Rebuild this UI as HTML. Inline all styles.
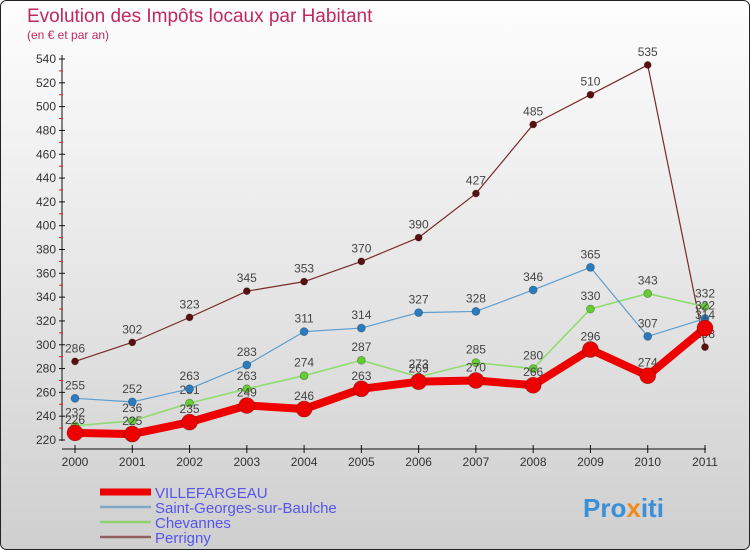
<!DOCTYPE html>
<html><head><meta charset="utf-8"><style>
html,body{margin:0;padding:0;width:750px;height:550px;overflow:hidden;font-family:"Liberation Sans",sans-serif}
</style></head><body>
<svg id="chart" width="750" height="550" xmlns="http://www.w3.org/2000/svg">
<defs><linearGradient id="bg" x1="0" y1="0" x2="0" y2="1"><stop offset="0" stop-color="#fefefe"/><stop offset="1" stop-color="#cfcfcf"/></linearGradient></defs>
<rect x="0.5" y="0.5" width="749" height="549" rx="6" fill="url(#bg)" stroke="#222"/>
<text x="27" y="22" font-size="19" fill="#c2285e">Evolution des Impôts locaux par Habitant</text>
<text x="27" y="39" font-size="12" fill="#c2285e">(en € et par an)</text>
<g id="axes"></g><g id="series"></g><g id="legend"></g>
<text x="583" y="517" font-size="26" font-weight="bold" fill="#3a8fd8">Pro<tspan fill="#f08a1c">x</tspan>iti</text>
</svg>
<script>
const years=["2000","2001","2002","2003","2004","2005","2006","2007","2008","2009","2010","2011"];
const yTicks=[220,240,260,280,300,320,340,360,380,400,420,440,460,480,500,520,540];
const villefargeau=[226,225,235,249,246,263,269,270,266,296,274,314];
const saintGeorges=[255,252,263,283,311,314,327,328,346,365,307,322];
const chevannes=[232,236,251,263,274,287,273,285,280,330,343,332];
const perrigny=[286,302,323,345,353,370,390,427,485,510,535,298];
const seriesNames=["VILLEFARGEAU","Saint-Georges-sur-Baulche","Chevannes","Perrigny"];
const NS="http://www.w3.org/2000/svg";
const x=i=>75+i*(630/11);
const y=v=>440-(v-220)*(381/320);
function mk(tag,attrs,parent){const e=document.createElementNS(NS,tag);for(const k in attrs)e.setAttribute(k,attrs[k]);parent.appendChild(e);return e;}
const axes=document.getElementById('axes');
let a=mk('line',{x1:62,y1:55,x2:62,y2:441,stroke:'#111'},axes);


a=mk('line',{x1:62,y1:449,x2:706,y2:449,stroke:'#111'},axes);


yTicks.forEach(v=>{
 mk('line',{x1:59,y1:y(v),x2:65,y2:y(v),stroke:'#111'},axes);
 if(v<540){const m=mk('line',{x1:59,y1:y(v+10),x2:63,y2:y(v+10),stroke:'#d22'},axes);}
 const t=mk('text',{x:56,y:y(v)+4,'font-size':12,fill:'#333','text-anchor':'end'},axes);t.textContent=v;
 
 
});
years.forEach((yr,i)=>{
 mk('line',{x1:x(i),y1:445,x2:x(i),y2:453,stroke:'#111'},axes);
 const t=mk('text',{x:x(i),y:466,'font-size':12,fill:'#333','text-anchor':'middle'},axes);t.textContent=yr;
 
 
});
const sg=document.getElementById('series');
const defs=[
 {d:perrigny,c:'#7a2a2a',dot:'#5a1010',w:1.2,r:3.5,n:'perrigny'},
 {d:chevannes,c:'#90dc70',dot:'#66cc33',w:1.6,r:4,n:'chevannes'},
 {d:saintGeorges,c:'#5c9ed0',dot:'#2a7cc0',w:1.2,r:4,n:'saint-georges'},
 {d:villefargeau,c:'#ee0000',dot:'#ee0000',w:8,r:8,n:'villefargeau'}
];
defs.forEach(s=>{
 const g=mk('g',{},sg);
 
 
 const p=mk('polyline',{points:s.d.map((v,i)=>x(i)+','+y(v)).join(' '),fill:'none',stroke:s.c,'stroke-width':s.w,'stroke-linejoin':'round'},g);
 
 
 s.d.forEach((v,i)=>{
  const c=mk('circle',{cx:x(i),cy:y(v),r:s.r,fill:s.dot,stroke:'rgba(0,0,0,0.3)','stroke-width':0.8},g);
  
  
  const t=mk('text',{x:x(i),y:y(v)-9,'font-size':12,fill:'#444','text-anchor':'middle'},g);t.textContent=v;
  
  
 });
});
const lg=document.getElementById('legend');
const lc=[['#ee0000',7],['#7fa8c8',2.5],['#8fd070',2.5],['#906060',2.5]];
seriesNames.forEach((n,i)=>{
 const yy=492+i*15;
 const l=mk('line',{x1:100,y1:yy,x2:151,y2:yy,stroke:lc[i][0],'stroke-width':lc[i][1]},lg);
 
 
 const t=mk('text',{x:155,y:yy+6,'font-size':15,fill:'#5555ee'},lg);t.textContent=n;
 
 
});
</script>
</body></html>
